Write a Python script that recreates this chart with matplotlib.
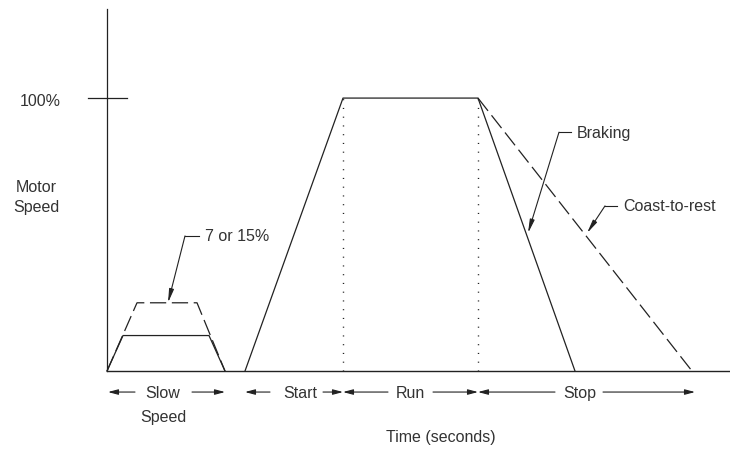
import matplotlib
matplotlib.use("Agg")
import matplotlib.pyplot as plt

plt.rcParams['font.family'] = ['Liberation Sans', 'DejaVu Sans']

# time in arbitrary units, speed in percent of full speed
slow_solid_t = [0.0, 1.6, 10.2, 11.8]
slow_solid_v = [0, 13, 13, 0]
slow_dash_t = [0.0, 3.0, 9.0, 11.8]
slow_dash_v = [0, 25, 25, 0]
run_t = [13.8, 23.6, 37.1, 46.8]
run_v = [0, 100, 100, 0]
coast_t = [37.1, 58.5]
coast_v = [100, 0]
phase_edges = [23.6, 37.1]

LINE = '#222222'
TEXT = '#333333'
FS = 11.5


def harrow(ax, x0, x1, y):
    ax.annotate('', xy=(x1, y), xytext=(x0, y),
                arrowprops=dict(arrowstyle='-|>,head_length=0.6,head_width=0.16',
                                color=LINE, lw=0.8, shrinkA=0, shrinkB=0))


def leader(ax, text, tx, ty, kx, tipx, tipy):
    # short horizontal tick then a slanted arrow down to the curve
    ax.plot([kx, tx - 0.6], [ty, ty], color=LINE, lw=0.8)
    ax.annotate('', xy=(tipx, tipy), xytext=(kx, ty),
                arrowprops=dict(arrowstyle='-|>,head_length=0.8,head_width=0.14',
                                color=LINE, lw=0.8, shrinkA=0, shrinkB=0))
    ax.text(tx, ty, text, ha='left', va='center', fontsize=FS, color=TEXT)


def main():
    fig = plt.figure(figsize=(7.3, 4.52), dpi=100)
    ax = fig.add_axes([0, 0, 1, 1])
    ax.set_xlim(-10.7, 62.3)
    ax.set_ylim(-29.3, 136.3)
    ax.axis('off')

    # axes lines
    ax.plot([0, 0], [0, 132.6], color=LINE, lw=0.9)
    ax.plot([0, 62.3], [0, 0], color=LINE, lw=1.0)
    ax.plot([-1.9, 2.0], [100, 100], color=LINE, lw=0.9)

    ax.plot(slow_solid_t, slow_solid_v, color=LINE, lw=0.9)
    ax.plot(slow_dash_t, slow_dash_v, color=LINE, lw=0.9, dashes=(13, 4.5))
    ax.plot(run_t, run_v, color=LINE, lw=0.9)
    ax.plot(coast_t, coast_v, color=LINE, lw=0.9, dashes=(13, 4.5))
    for t in phase_edges:
        ax.plot([t, t], [0, 100], color=LINE, lw=1.0, dashes=(0.8, 5.5))

    ax.text(-6.7, 99, '100%', ha='center', va='center', fontsize=FS, color=TEXT)
    ax.text(-7.1, 64, 'Motor\nSpeed', ha='center', va='center', fontsize=FS,
            color=TEXT, linespacing=1.45)

    leader(ax, '7 or 15%', 9.8, 49.5, 7.8, 6.1, 25)
    leader(ax, 'Braking', 47.0, 87.5, 45.2, 42.1, 50.5)
    leader(ax, 'Coast-to-rest', 51.6, 60.5, 49.8, 48.0, 50.5)

    # phase labels under the axis
    yb = -7.7
    harrow(ax, 2.8, 0.1, yb)
    ax.text(5.6, yb, 'Slow', ha='center', va='center', fontsize=FS, color=TEXT)
    harrow(ax, 8.5, 11.8, yb)
    ax.text(5.6, -16.5, 'Speed', ha='center', va='center', fontsize=FS, color=TEXT)

    harrow(ax, 16.3, 13.8, yb)
    ax.text(19.3, yb, 'Start', ha='center', va='center', fontsize=FS, color=TEXT)
    harrow(ax, 21.6, 23.6, yb)

    harrow(ax, 28.1, 23.6, yb)
    ax.text(30.3, yb, 'Run', ha='center', va='center', fontsize=FS, color=TEXT)
    harrow(ax, 32.6, 37.1, yb)

    harrow(ax, 44.8, 37.1, yb)
    ax.text(47.3, yb, 'Stop', ha='center', va='center', fontsize=FS, color=TEXT)
    harrow(ax, 49.6, 58.8, yb)

    ax.text(33.4, -23.9, 'Time (seconds)', ha='center', va='center',
            fontsize=FS, color=TEXT)

    fig.savefig('out.png', dpi=100)
    plt.close(fig)


if __name__ == "__main__":
    main()
